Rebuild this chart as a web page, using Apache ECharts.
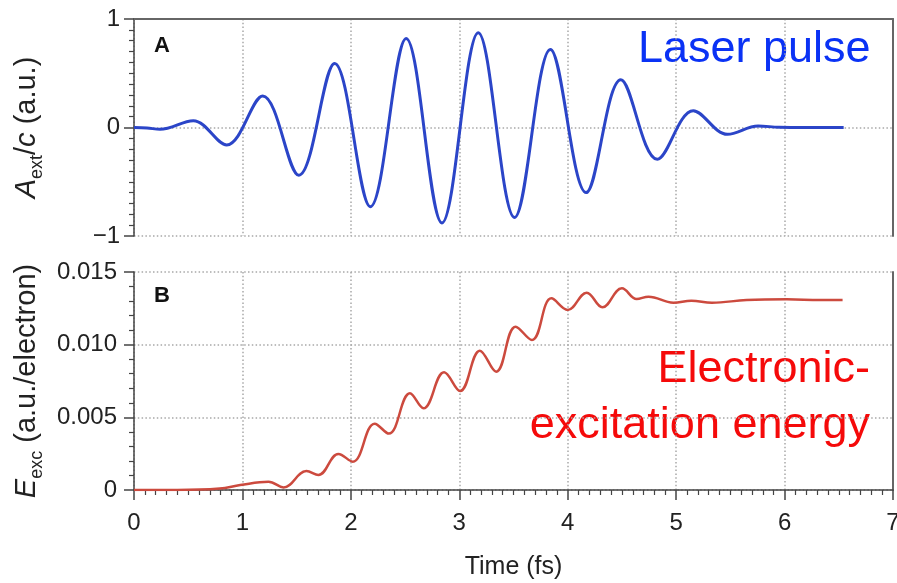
<!DOCTYPE html>
<html>
<head>
<meta charset="utf-8">
<script src="https://cdn.jsdelivr.net/npm/echarts@6/dist/echarts.min.js"></script>
<style>
  html, body { margin: 0; padding: 0; background: #fff; }
  #main { width: 897px; height: 583px; }
</style>
</head>
<body>
<div id="main"></div>
<script>
// laser pulse vector potential A_ext/c (panel A), read at the extrema
const pulseTime = [0, 0.12, 0.24, 0.547, 0.855, 1.187, 1.52, 1.85, 2.18, 2.51, 2.84, 3.175, 3.51, 3.84, 4.17, 4.49, 4.826, 5.158, 5.473, 5.756, 5.95, 6.2, 6.545]
const pulseA = [0, -0.004, -0.017, 0.062, -0.161, 0.29, -0.44, 0.59, -0.73, 0.82, -0.88, 0.874, -0.83, 0.72, -0.6, 0.44, -0.293, 0.155, -0.063, 0.014, 0.002, 0, 0]

// electronic excitation energy E_exc (panel B)
const energyTime = [0, 0.4, 0.79, 0.98, 1.24, 1.38, 1.59, 1.70, 1.885, 2.017, 2.22, 2.35, 2.545, 2.67, 2.86, 3.007, 3.19, 3.34, 3.52, 3.67, 3.85, 4.0, 4.175, 4.32, 4.5, 4.636, 4.745, 4.975, 5.14, 5.33, 5.65, 6.02, 6.33, 6.535]
const energyE = [0, 0, 0.0001, 0.00034, 0.00057, 0.00018, 0.0013, 0.00103, 0.00248, 0.00195, 0.00456, 0.00388, 0.00665, 0.00562, 0.0081, 0.00681, 0.00959, 0.00814, 0.01124, 0.01032, 0.01319, 0.01239, 0.01358, 0.01257, 0.01388, 0.01314, 0.0133, 0.01289, 0.01303, 0.01289, 0.01307, 0.01312, 0.01307, 0.01307]

const timeTicks = [0, 1, 2, 3, 4, 5, 6, 7]
const energyTickLabels = ['0', '0.005', '0.010', '0.015']

const font = "'Liberation Sans', Arial, Helvetica, sans-serif"
const dotted = { color: '#a8a8a8', width: 1.5, type: [1.5, 2.3] }
const axisDark = { color: '#444', width: 1.5 }
const border = { color: '#666', width: 2 }

const zip = (xs, ys) => xs.map((x, i) => [x, ys[i]])

const chart = echarts.init(document.getElementById('main'))

const nameRich = {
  it: { fontFamily: font, fontSize: 29, fontStyle: 'italic', color: '#222', lineHeight: 38 },
  n: { fontFamily: font, fontSize: 29, color: '#222', lineHeight: 38 },
  sub: { fontFamily: font, fontSize: 18, color: '#222', verticalAlign: 'bottom', lineHeight: 18 }
}

const option = {
  backgroundColor: '#fff',
  animation: false,
  grid: [
    { left: 134, right: 4, top: 19, height: 217, outerBoundsMode: 'none' },
    { left: 134, right: 4, top: 272, height: 218, outerBoundsMode: 'none' }
  ],
  xAxis: [
    {
      type: 'value', gridIndex: 0, min: 0, max: 7, interval: 1,
      axisLine: { show: false }, axisTick: { show: false }, axisLabel: { show: false },
      splitLine: { show: true, lineStyle: dotted }
    },
    {
      type: 'value', gridIndex: 0, position: 'top', min: 0, max: 7, interval: 1,
      axisLine: { show: true, onZero: false, lineStyle: border }, axisTick: { show: false },
      axisLabel: { show: false }, splitLine: { show: false }
    },
    {
      type: 'value', gridIndex: 1, min: 0, max: 7, interval: 1,
      axisLine: { show: true, onZero: false, lineStyle: axisDark },
      axisTick: { show: true, length: 10, lineStyle: axisDark },
      minorTick: { show: true, splitNumber: 10, length: 5, lineStyle: { color: '#444', width: 1.2 } },
      axisLabel: {
        fontFamily: font, fontSize: 24, color: '#222', margin: 21,
        formatter: v => String(timeTicks[Math.round(v)])
      },
      splitLine: { show: true, lineStyle: dotted },
      name: 'Time (fs)', nameLocation: 'middle', nameGap: 65,
      nameTextStyle: { fontFamily: font, fontSize: 25, color: '#222' }
    }
  ],
  yAxis: [
    {
      type: 'value', gridIndex: 0, min: -1, max: 1, interval: 1,
      axisLine: { show: true, onZero: false, lineStyle: axisDark },
      axisTick: { show: true, length: 10, lineStyle: axisDark },
      minorTick: { show: true, splitNumber: 10, length: 5, lineStyle: { color: '#444', width: 1.2 } },
      axisLabel: {
        fontFamily: font, fontSize: 24, color: '#222', margin: 14,
        formatter: v => (v < 0 ? '\u2212' + Math.abs(v) : String(v))
      },
      splitLine: { show: true, lineStyle: dotted },
      name: '{it|A}{sub|ext}{n|/}{it|c}{n| (a.u.)}', nameLocation: 'middle', nameGap: 88, nameRotate: 90,
      nameTextStyle: { rich: nameRich }
    },
    {
      type: 'value', gridIndex: 0, position: 'right', min: -1, max: 1, interval: 1,
      axisLine: { show: true, onZero: false, lineStyle: border }, axisTick: { show: false },
      axisLabel: { show: false }, splitLine: { show: false }
    },
    {
      type: 'value', gridIndex: 1, min: 0, max: 0.015, interval: 0.005,
      axisLine: { show: true, onZero: false, lineStyle: axisDark },
      axisTick: { show: true, length: 10, lineStyle: axisDark },
      minorTick: { show: true, splitNumber: 5, length: 5, lineStyle: { color: '#444', width: 1.2 } },
      axisLabel: {
        fontFamily: font, fontSize: 24, color: '#222', margin: 17,
        formatter: v => energyTickLabels[Math.round(v / 0.005)]
      },
      splitLine: { show: true, lineStyle: dotted },
      name: '{it|E}{sub|exc}{n| (a.u./electron)}', nameLocation: 'middle', nameGap: 88, nameRotate: 90,
      nameTextStyle: { rich: nameRich }
    },
    {
      type: 'value', gridIndex: 1, position: 'right', min: 0, max: 0.015, interval: 0.005,
      axisLine: { show: true, onZero: false, lineStyle: border }, axisTick: { show: false },
      axisLabel: { show: false }, splitLine: { show: false }
    }
  ],
  graphic: [
    { type: 'text', x: 154, y: 46, style: { text: 'A', fontFamily: font, fontSize: 22, fontWeight: 'bold', fill: '#111', verticalAlign: 'middle' } },
    { type: 'text', x: 154, y: 296, style: { text: 'B', fontFamily: font, fontSize: 22, fontWeight: 'bold', fill: '#111', verticalAlign: 'middle' } },
    { type: 'text', x: 638, y: 50, style: { text: 'Laser pulse', fontFamily: font, fontSize: 45, fill: '#0a32f5', align: 'left', verticalAlign: 'middle' } },
    { type: 'text', x: 870, y: 370, style: { text: 'Electronic-', fontFamily: font, fontSize: 45, fill: '#f50a0a', align: 'right', verticalAlign: 'middle' } },
    { type: 'text', x: 870, y: 426, style: { text: 'excitation energy', fontFamily: font, fontSize: 45, fill: '#f50a0a', align: 'right', verticalAlign: 'middle' } }
  ],
  series: [
    {
      name: 'Laser pulse', type: 'line', xAxisIndex: 0, yAxisIndex: 0,
      data: zip(pulseTime, pulseA), smooth: 0.36, showSymbol: false,
      lineStyle: { color: '#2b45c8', width: 3 }
    },
    {
      name: 'Electronic-excitation energy', type: 'line', xAxisIndex: 2, yAxisIndex: 2,
      data: zip(energyTime, energyE), smooth: 0.4, showSymbol: false,
      lineStyle: { color: '#cc4a3e', width: 2.5 }
    }
  ]
}

chart.setOption(option)
</script>
</body>
</html>
